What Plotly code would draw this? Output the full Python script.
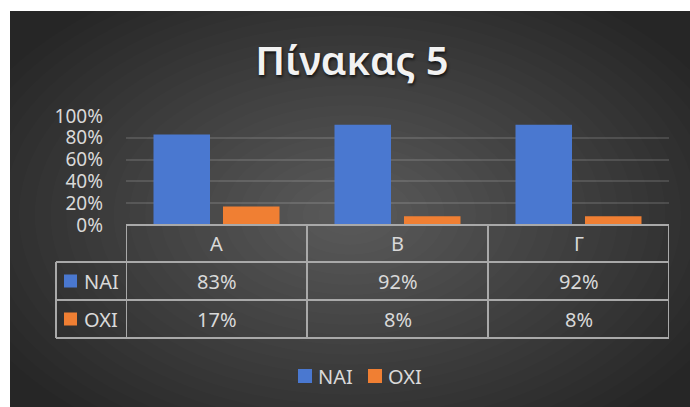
import plotly.graph_objects as go

categories = ["Α", "Β", "Γ"]
series_names = ["ΝΑΙ", "ΟΧΙ"]
nai = [0.83, 0.92, 0.92]
oxi = [0.17, 0.08, 0.08]
y_ticks = [0, 0.2, 0.4, 0.6, 0.8, 1.0]

COLORS = ["#4a78d0", "#f07f33"]
TEXT = "#d9d9d9"
LINE = "#a9a9a9"
FONT = "Noto Sans"

W, H = 690, 407
L, R, T, B = 126, 21, 116, 182
PW, PH = W - L - R, H - T - B


def px(x):
    return (x - L) / PW


def py(y):
    return (H - B - y) / PH


fig = go.Figure()
for name, vals, col in zip(series_names, [nai, oxi], COLORS):
    fig.add_bar(x=categories, y=vals, name=name, marker_color=col, marker_line_width=0)

shapes = []
# dark card with soft radial glow
shapes.append(dict(type="rect", xref="paper", yref="paper", x0=px(10), x1=px(690),
                   y0=py(11), y1=py(407), fillcolor="#262626", line_width=0, layer="below"))
n = 26
cx, cy, rx, ry = 350, 215, 410, 260
for i in range(n):
    f = 1 - i / n
    shapes.append(dict(type="circle", xref="paper", yref="paper",
                       x0=px(cx - rx * f), x1=px(cx + rx * f),
                       y0=py(cy - ry * f), y1=py(cy + ry * f),
                       fillcolor="rgba(255,255,255,0.0108)", line_width=0, layer="below"))

# data table grid
rows_y = [225, 262, 300, 338]
left_lbl = 56
ln = dict(color=LINE, width=2)
shapes.append(dict(type="line", xref="x", yref="paper", x0=-0.5, x1=len(categories) - 0.5,
                   y0=py(rows_y[0]), y1=py(rows_y[0]), line=ln))
for yy in rows_y[1:]:
    shapes.append(dict(type="line", xref="paper", yref="paper", x0=px(left_lbl), x1=1,
                       y0=py(yy), y1=py(yy), line=ln))
for k in range(len(categories) + 1):
    shapes.append(dict(type="line", xref="x", yref="paper", x0=k - 0.5, x1=k - 0.5,
                       y0=py(rows_y[0]), y1=py(rows_y[-1]), line=ln))
shapes.append(dict(type="line", xref="paper", yref="paper", x0=px(left_lbl), x1=px(left_lbl),
                   y0=py(rows_y[1]), y1=py(rows_y[-1]), line=ln))

tfont = dict(family=FONT, size=20, color=TEXT)
ann = []
hdr_y = py((rows_y[0] + rows_y[1]) / 2)
for c in categories:
    ann.append(dict(x=c, y=hdr_y, xref="x", yref="paper", text=c, showarrow=False,
                    xanchor="center", yanchor="middle", font=tfont))
for r, (name, vals, col) in enumerate(zip(series_names, [nai, oxi], COLORS)):
    yc = (rows_y[r + 1] + rows_y[r + 2]) / 2
    shapes.append(dict(type="rect", xref="paper", yref="paper", x0=px(64), x1=px(77),
                       y0=py(yc - 6.5), y1=py(yc + 6.5), fillcolor=col, line_width=0))
    ann.append(dict(x=px(82), y=py(yc), xref="paper", yref="paper", text=name, showarrow=False,
                    xanchor="left", yanchor="middle", font=tfont))
    for c, v in zip(categories, vals):
        ann.append(dict(x=c, y=py(yc), xref="x", yref="paper", text=f"{v:.0%}", showarrow=False,
                        xanchor="center", yanchor="middle", font=tfont))

# legend below the table
leg_y = 376
for name, col, x0 in zip(series_names, COLORS, [298, 368]):
    shapes.append(dict(type="rect", xref="paper", yref="paper", x0=px(x0), x1=px(x0 + 14),
                       y0=py(leg_y - 7), y1=py(leg_y + 7), fillcolor=col, line_width=0))
    ann.append(dict(x=px(x0 + 18), y=py(leg_y), xref="paper", yref="paper", text=name,
                    showarrow=False, xanchor="left", yanchor="middle", font=tfont))

fig.update_layout(
    width=W, height=H,
    margin=dict(l=L, r=R, t=T, b=B),
    paper_bgcolor="white", plot_bgcolor="rgba(0,0,0,0)",
    barmode="group", bargap=0.232, bargroupgap=0.187,
    title=dict(text="Πίνακας 5", x=352 / W, xref="container", xanchor="center",
               y=1 - 61 / H, yref="container", yanchor="middle",
               font=dict(family=FONT, size=40, color="#f2f2f2", weight=600,
                         shadow="1px 2px 3px rgba(0,0,0,0.7)")),
    xaxis=dict(showticklabels=False, showgrid=False, zeroline=False, showline=False,
               range=[-0.5, len(categories) - 0.5]),
    yaxis=dict(range=[0, 1], tickvals=y_ticks, tickformat=".0%", showgrid=True,
               gridcolor="rgba(255,255,255,0.13)", gridwidth=1.5, zeroline=False,
               showline=False, ticklabelstandoff=22,
               tickfont=dict(family=FONT, size=19, color=TEXT)),
    shapes=shapes, annotations=ann, showlegend=False,
)

fig.write_html("out.html", config={"displayModeBar": False},
               post_script="document.body.style.margin='0';")
